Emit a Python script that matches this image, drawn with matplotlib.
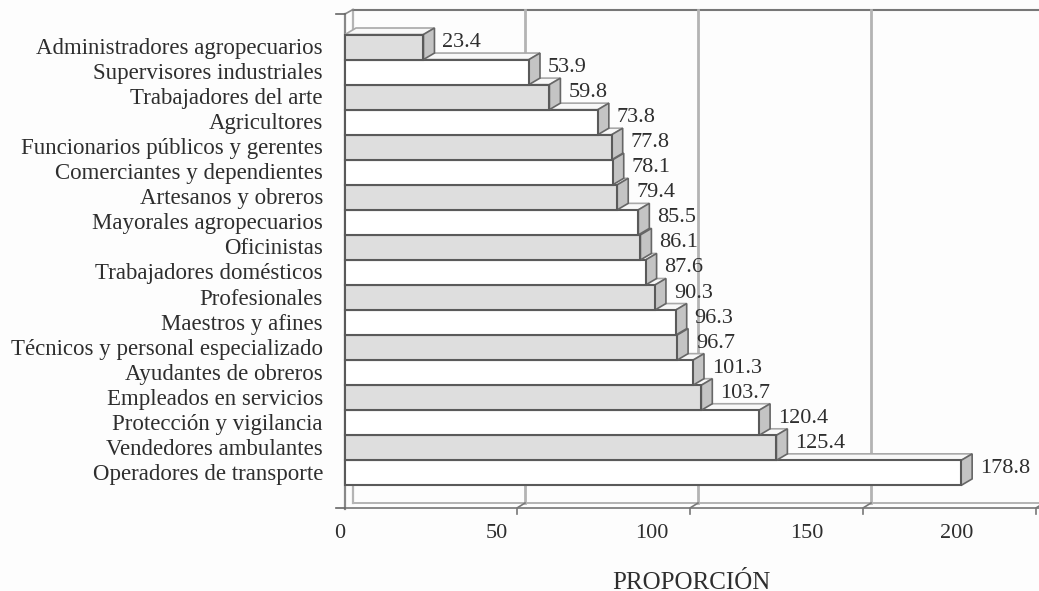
import matplotlib
matplotlib.use("Agg")
import matplotlib.pyplot as plt
from matplotlib.patches import Polygon

categories = ["Administradores agropecuarios", "Supervisores industriales", "Trabajadores del arte",
              "Agricultores", "Funcionarios públicos y gerentes", "Comerciantes y dependientes",
              "Artesanos y obreros", "Mayorales agropecuarios", "Oficinistas", "Trabajadores domésticos",
              "Profesionales", "Maestros y afines", "Técnicos y personal especializado",
              "Ayudantes de obreros", "Empleados en servicios", "Protección y vigilancia",
              "Vendedores ambulantes", "Operadores de transporte"]
values = [23.4, 53.9, 59.8, 73.8, 77.8, 78.1, 79.4, 85.5, 86.1, 87.6, 90.3, 96.3, 96.7,
          101.3, 103.7, 120.4, 125.4, 178.8]
ticks = [0, 50, 100, 150, 200]
tick_labels = ["0", "50", "100", "150", "200"]
x_title = "PROPORCIÓN"

W, H = 1039, 591
X0, PX = 345.0, 3.46
plt.rcParams['font.family'] = ['Liberation Serif', 'DejaVu Serif']
fig = plt.figure(figsize=(W / 100, H / 100), dpi=100, facecolor="#fdfdfd")
ax = fig.add_axes([0, 0, 1, 1])
ax.set_xlim(-X0 / PX, (W - X0) / PX)
ax.set_ylim(H, 0)
ax.axis("off")

DX = 8 / PX          # depth of the wall, in value units
DY = 5
BDX = 11 / PX        # depth of a bar
BDY = 6.5
SHIFT = -2.5 / PX    # bar ends sit slightly left of the scale in the source
GSHIFT = -1 / PX
TOP, ROW = 34.5, 25.05
FLOOR = 508
GRID = "#b4b4b4"
TXT = "#2e2e2e"
EDGE = "#5a5a5a"

# back wall and floor
ax.plot([DX, DX], [FLOOR - DY, 9.5], color=GRID, lw=1.6, zorder=1)
ax.plot([DX, 200 + 3 / PX], [9.5, 9.5], color="#777777", lw=1.5, zorder=1)
ax.plot([DX, 200 + 3 / PX], [FLOOR - DY, FLOOR - DY], color=GRID, lw=1.4, zorder=1)
ax.plot([0, 200 + 3 / PX], [FLOOR, FLOOR], color="#888888", lw=1.4, zorder=1)
ax.plot([0, 0], [14, FLOOR + 1], color="#888888", lw=1.6, zorder=1)
ax.plot([DX, 0], [14 - 4.5, 14], color="#888888", lw=1.2, zorder=1)
ax.plot([-9 / PX, 0], [14, 14], color="#666666", lw=1.2, zorder=1)
ax.plot([-9 / PX, 0], [FLOOR, FLOOR], color="#666666", lw=1.2, zorder=1)
for t in ticks[1:]:
    if t < 200:
        ax.plot([t + DX + GSHIFT] * 2, [9.5, FLOOR - DY], color=GRID, lw=2, zorder=1)
    ax.plot([t + DX + GSHIFT, t + GSHIFT, t + GSHIFT], [FLOOR - DY, FLOOR, FLOOR + 6],
            color="#777777", lw=1.2, zorder=1)

# bars, last first, so upper bars overlap lower ones
for i in range(len(values) - 1, -1, -1):
    v = values[i] + SHIFT
    y0 = TOP + i * ROW
    y1 = y0 + ROW
    z = 3 + (len(values) - i)
    front = "#dedede" if i % 2 == 0 else "#ffffff"
    ax.add_patch(Polygon([(0, y0), (BDX, y0 - BDY), (v + BDX, y0 - BDY), (v, y0)],
                         fc="#f8f8f8", ec="#a8a8a8", lw=1.2, zorder=z))
    ax.add_patch(Polygon([(v, y0), (v + BDX, y0 - BDY), (v + BDX, y1 - BDY), (v, y1)],
                         fc="#c4c4c4", ec="#666666", lw=1.2, zorder=z))
    ax.add_patch(Polygon([(0, y0), (v, y0), (v, y1), (0, y1)],
                         fc=front, ec=EDGE, lw=1.5, zorder=z))
    ax.text(v + BDX + 8 / PX, y0 + ROW / 2 - 4.5, f"{values[i]:.1f}", fontsize=16, color=TXT,
            ha="left", va="center", zorder=40)
    ax.text(-22 / PX, y0 + ROW / 2 + 1.5, categories[i], fontsize=16.5, color=TXT,
            ha="right", va="center", zorder=40)

# the tick labels in the source sit at their own, narrower spacing
label_px = [340, 497, 652, 807, 957]
for px, lab in zip(label_px, tick_labels):
    ax.text((px - X0) / PX, 533.5, lab, fontsize=16, color=TXT, ha="center", va="center")
ax.text((691 - X0) / PX, 583, x_title, fontsize=18, color=TXT, ha="center", va="center")

fig.savefig("out.png", dpi=100, facecolor=fig.get_facecolor())
